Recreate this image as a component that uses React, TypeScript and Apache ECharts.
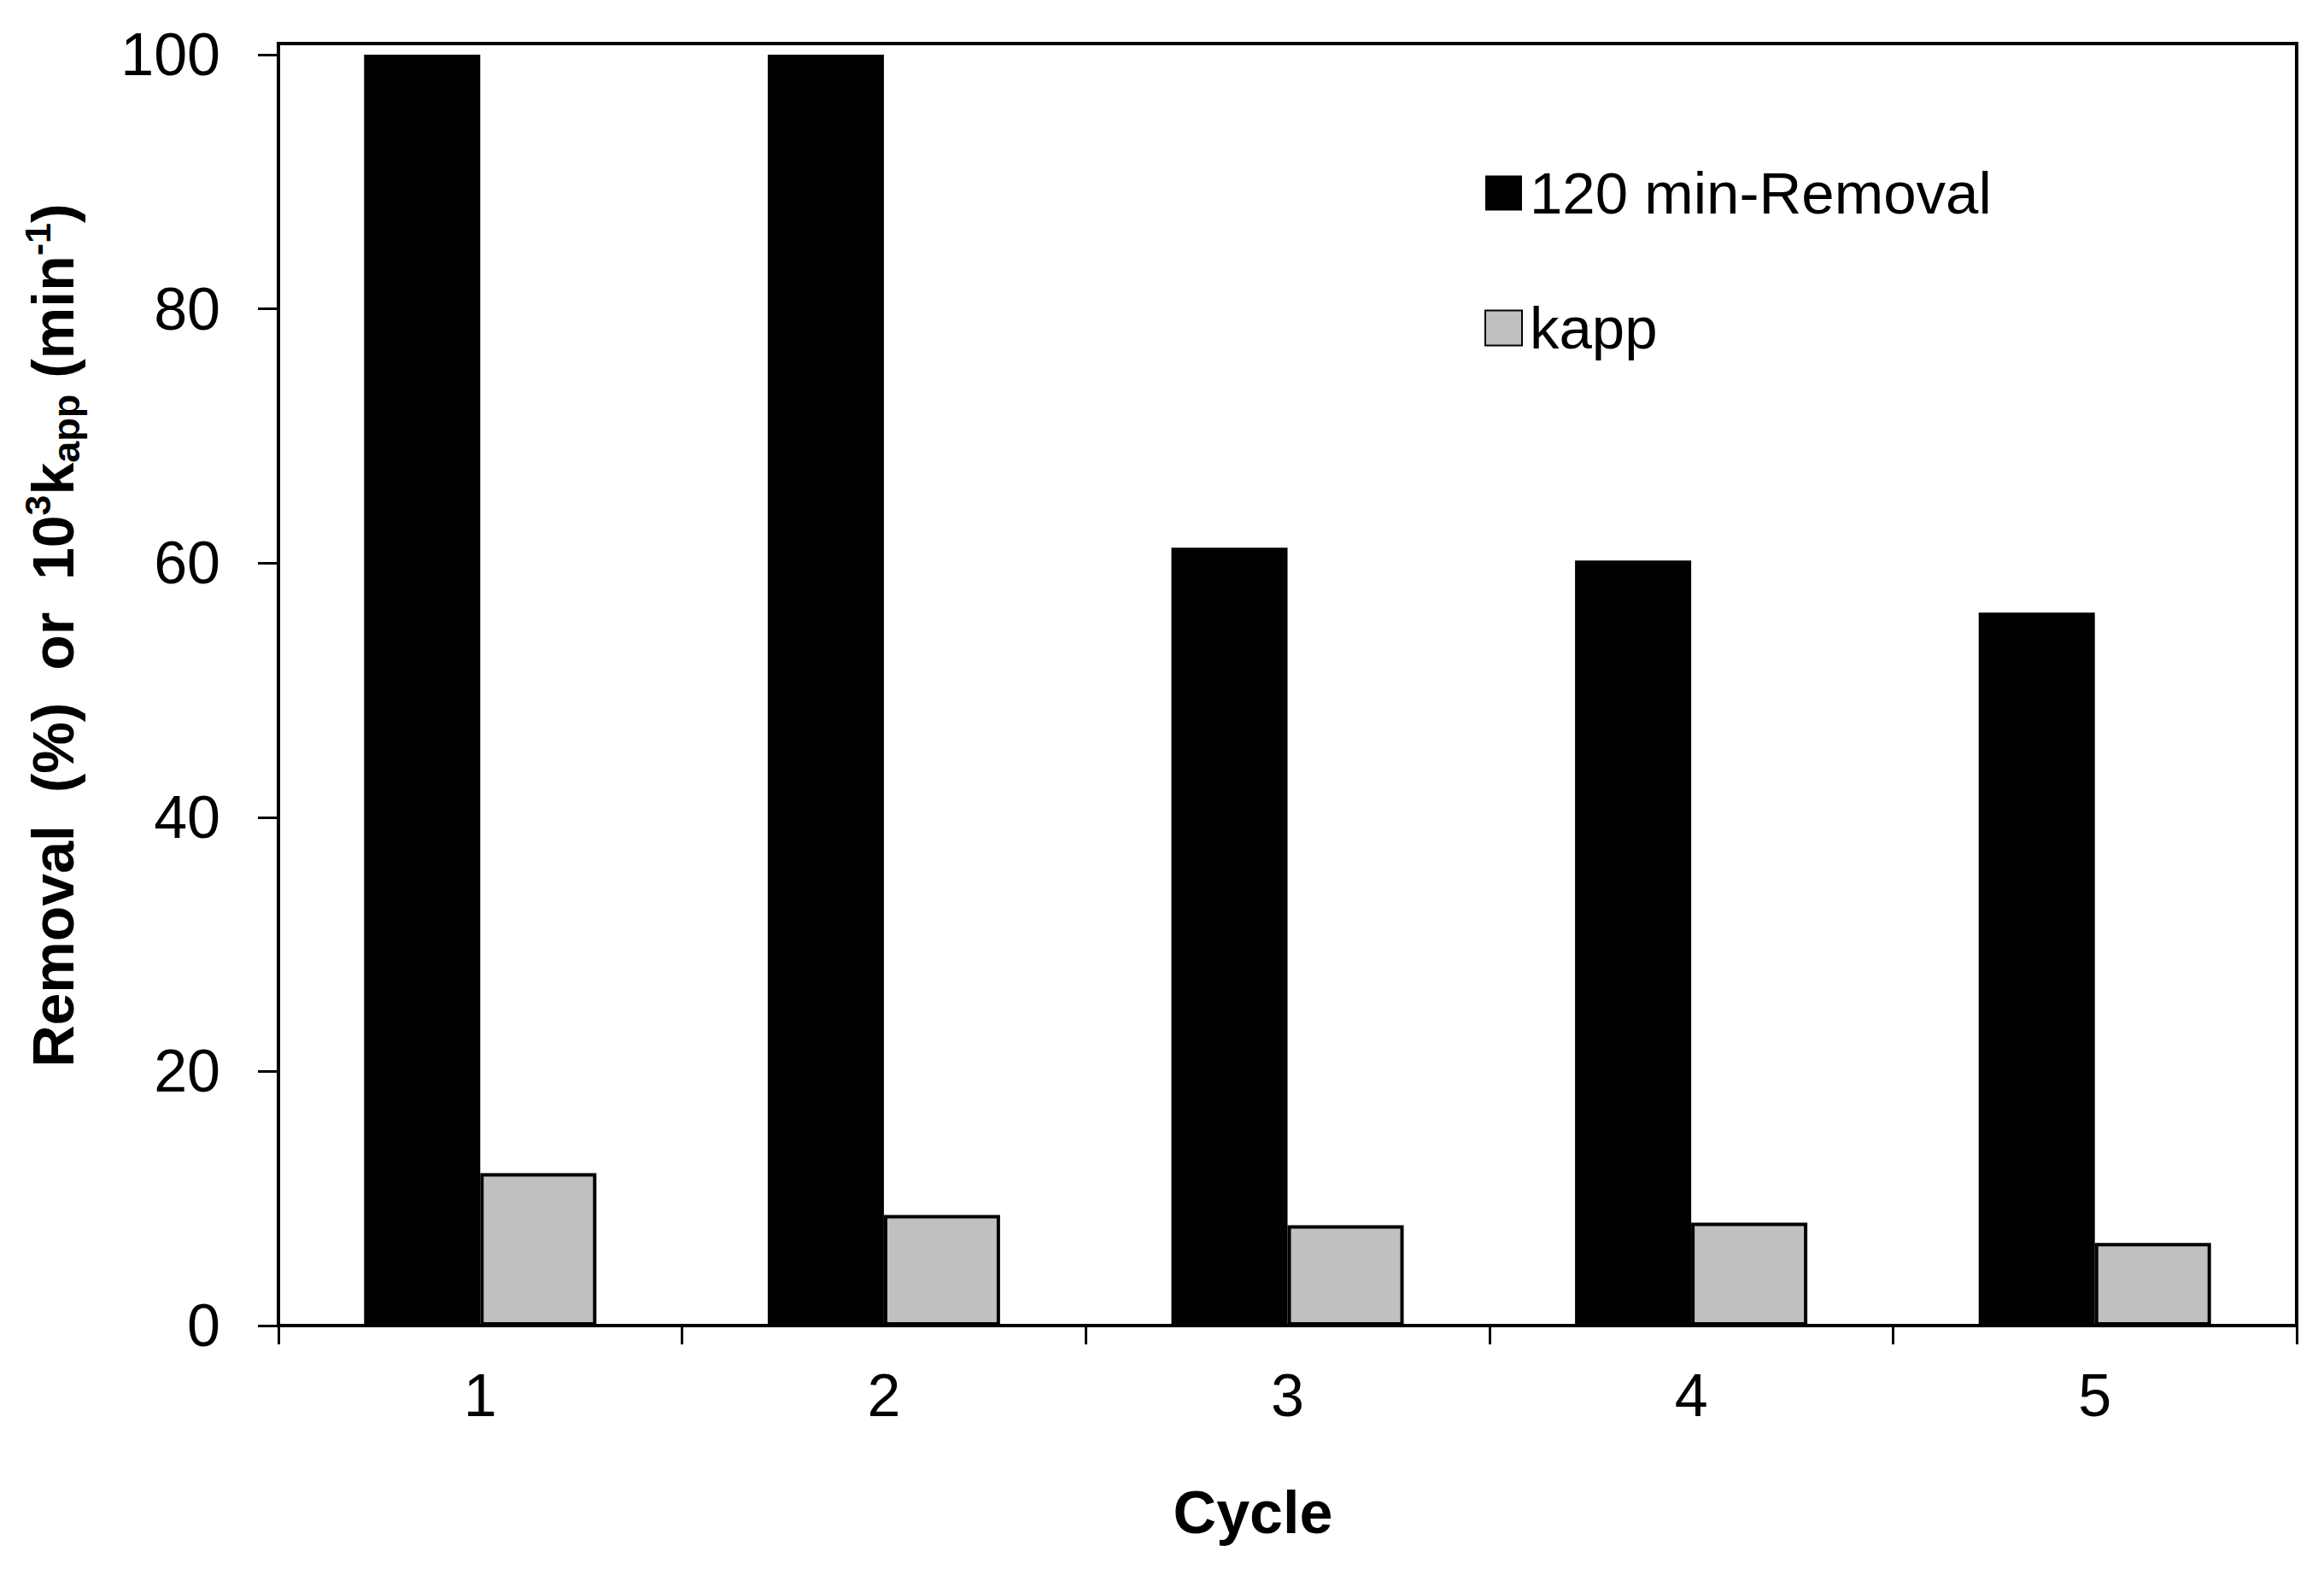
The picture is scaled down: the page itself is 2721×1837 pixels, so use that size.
import React, { useEffect, useRef } from "react";
import * as echarts from "echarts";

const cycles = ["1", "2", "3", "4", "5"];
const removal = [100, 100, 61.2, 60.2, 56.1];
const kapp = [12.0, 8.7, 7.9, 8.1, 6.5];
const yTicks = [0, 20, 40, 60, 80, 100];
const seriesNames = ["120 min-Removal", "kapp"];
const xTitle = "Cycle";

const FONT = "Arial, 'Liberation Sans', Helvetica, sans-serif";

export default function App() {
  const ref = useRef<HTMLDivElement>(null);
  useEffect(() => {
    document.body.style.margin = "0";
    const chart = echarts.init(ref.current!, null, { renderer: "svg" });
    chart.setOption({
      animation: false,
      backgroundColor: "#ffffff",
      grid: {
        left: 326,
        right: 32,
        top: 51,
        bottom: 285,
        show: true,
        borderColor: "#000",
        borderWidth: 4,
        backgroundColor: "transparent",
      },
      legend: {
        orient: "vertical",
        left: 1733,
        top: 181,
        itemWidth: 43,
        itemHeight: 41,
        itemGap: 78,
        icon: "rect",
        data: seriesNames,
        textStyle: {
          fontSize: 69,
          color: "#000",
          fontFamily: FONT,
          lineHeight: 80,
          padding: [0, 0, 0, 4],
        },
      },
      xAxis: {
        type: "category",
        data: cycles,
        axisLine: { show: true, lineStyle: { color: "#000", width: 4 } },
        axisTick: { show: true, length: 22, lineStyle: { color: "#000", width: 3 } },
        axisLabel: { fontSize: 70, color: "#000", fontFamily: FONT, margin: 47 },
        splitLine: { show: false },
      },
      yAxis: {
        type: "value",
        min: 0,
        max: 100.87,
        splitLine: { show: false },
        axisLine: { show: true, lineStyle: { color: "#000", width: 4 } },
        axisTick: {
          show: true,
          length: 24,
          lineStyle: { color: "#000", width: 3 },
          customValues: yTicks,
        },
        axisLabel: {
          customValues: yTicks,
          fontSize: 70,
          color: "#000",
          fontFamily: FONT,
          margin: 68,
          formatter: (v: number) => (v % 20 === 0 ? String(v) : ""),
        },
      },
      series: [
        {
          name: seriesNames[0],
          type: "bar",
          data: removal,
          barWidth: 136,
          barGap: "0%",
          itemStyle: { color: "#000", borderColor: "#000", borderWidth: 0 },
        },
        {
          name: seriesNames[1],
          type: "bar",
          data: kapp,
          barWidth: 136,
          barGap: "0%",
          itemStyle: { color: "#c0c0c0", borderColor: "#000", borderWidth: 4 },
        },
      ],
      graphic: [
        {
          type: "text",
          x: 1467,
          y: 1771,
          style: {
            text: xTitle,
            fontSize: 70,
            fontWeight: "bold",
            fontFamily: FONT,
            fill: "#000",
            align: "center",
            verticalAlign: "middle",
          },
        },
        {
          type: "text",
          x: 62,
          y: 744,
          rotation: Math.PI / 2,
          style: {
            text:
              "{n|Removal  (%)  or  10}{sup|3}{n|k}{sub|app}{n| (min}{sup|-1}{n|)}",
            align: "center",
            verticalAlign: "middle",
            fill: "#000",
            rich: {
              n: { fontSize: 68, fontWeight: "bold", fontFamily: FONT, fill: "#000", lineHeight: 90 },
              sup: {
                fontSize: 43,
                fontWeight: "bold",
                fontFamily: FONT,
                fill: "#000",
                lineHeight: 43,
                padding: [0, 0, 37, 0],
              },
              sub: {
                fontSize: 45,
                fontWeight: "bold",
                fontFamily: FONT,
                fill: "#000",
                lineHeight: 45,
                padding: [31, 0, 0, 0],
              },
            },
          },
        },
      ],
    });
    return () => chart.dispose();
  }, []);
  return <div ref={ref} style={{ width: 2721, height: 1837, background: "#fff" }} />;
}
